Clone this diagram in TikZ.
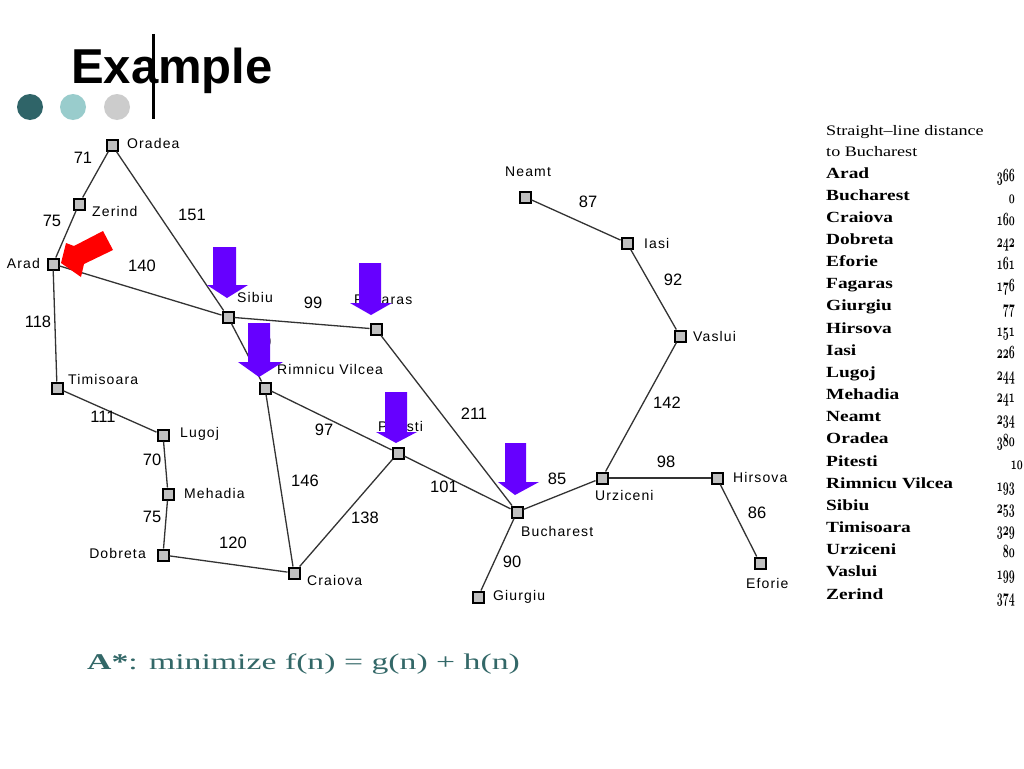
\documentclass[tikz,border=0pt]{standalone}
\usepackage{fontspec}
\usepackage{graphicx}
\newfontfamily\cityfont{Liberation Sans}[LetterSpace=8]
\newfontfamily\numfont{Liberation Sans}
\newfontfamily\titlefont{Liberation Sans}
\newfontfamily\tblfont{Liberation Serif}[FakeStretch=1.25]
\newfontfamily\formfont{Liberation Serif}[FakeStretch=1.5]
\newcommand\osnum[1]{\scalebox{0.72}[1.3]{\usefont{OML}{cmm}{b}{it}#1}}
\definecolor{dteal}{RGB}{47,100,104}
\definecolor{lteal}{RGB}{153,204,204}
\definecolor{lgray}{RGB}{204,204,204}
\definecolor{boxgray}{RGB}{192,192,192}
\definecolor{arrblue}{RGB}{102,0,255}
\definecolor{formteal}{RGB}{51,104,104}
\tikzset{
  city/.style={rectangle,draw=black,line width=2pt,fill=boxgray,minimum size=11pt,inner sep=0pt},
  clabel/.style={inner sep=0pt,font=\cityfont\fontsize{14}{14}\selectfont},
  elabel/.style={inner sep=0pt,font=\numfont\fontsize{16.5}{16.5}\selectfont},
  road/.style={line width=1.3pt,draw=black!80},
  bluearr/.style={fill=arrblue},
  tblname/.style={inner sep=0pt,font=\tblfont\bfseries\fontsize{15.5}{15.5}\selectfont},
  tblhead/.style={inner sep=0pt,font=\tblfont\fontsize{14.5}{14.5}\selectfont},
  tblnum/.style={inner sep=0pt,font=\fontsize{14.4}{14.4}\selectfont}
}
\begin{document}
\begin{tikzpicture}[x=1pt,y=-1pt]
\useasboundingbox (0,0) rectangle (1024,768);
\fill[white] (0,0) rectangle (1024,768);
% title
\node[inner sep=0pt,anchor=base west,font=\titlefont\bfseries\fontsize{49}{49}\selectfont] (title) at (71,83) {Example};
\draw[line width=3pt] (153,34) -- (153,119);
\fill[dteal] (30,107) circle[radius=13pt];
\fill[lteal] (73,107) circle[radius=13pt];
\fill[lgray] (117,107) circle[radius=13pt];
% cities
\node[city] (oradea) at (112,145) {};
\node[city] (zerind) at (79,204) {};
\node[city] (arad) at (53,264) {};
\node[city] (timisoara) at (57,388) {};
\node[city] (lugoj) at (163,435) {};
\node[city] (mehadia) at (168,494) {};
\node[city] (dobreta) at (163,555) {};
\node[city] (craiova) at (294,573) {};
\node[city] (rimnicu) at (265,388) {};
\node[city] (sibiu) at (228,317) {};
\node[city] (fagaras) at (376,329) {};
\node[city] (pitesti) at (398,453) {};
\node[city] (bucharest) at (517,512) {};
\node[city] (giurgiu) at (478,597) {};
\node[city] (urziceni) at (602,478) {};
\node[city] (hirsova) at (717,478) {};
\node[city] (eforie) at (760,563) {};
\node[city] (vaslui) at (680,336) {};
\node[city] (iasi) at (627,243) {};
\node[city] (neamt) at (525,197) {};
% roads
\draw[road] (oradea) -- (zerind);
\draw[road] (oradea) -- (sibiu);
\draw[road] (zerind) -- (arad);
\draw[road] (arad) -- (sibiu);
\draw[road] (arad) -- (timisoara);
\draw[road] (timisoara) -- (lugoj);
\draw[road] (lugoj) -- (mehadia);
\draw[road] (mehadia) -- (dobreta);
\draw[road] (dobreta) -- (craiova);
\draw[road] (craiova) -- (rimnicu);
\draw[road] (craiova) -- (pitesti);
\draw[road] (rimnicu) -- (sibiu);
\draw[road] (rimnicu) -- (pitesti);
\draw[road] (sibiu) -- (fagaras);
\draw[road] (fagaras) -- (bucharest);
\draw[road] (pitesti) -- (bucharest);
\draw[road] (bucharest) -- (giurgiu);
\draw[road] (bucharest) -- (urziceni);
\draw[road] (urziceni) -- (hirsova);
\draw[road] (hirsova) -- (eforie);
\draw[road] (urziceni) -- (vaslui);
\draw[road] (vaslui) -- (iasi);
\draw[road] (iasi) -- (neamt);
% city labels
\node[clabel,anchor=west] (lOradea) at (127,143) {Oradea};
\node[clabel,anchor=west] (lZerind) at (92,211) {Zerind};
\node[clabel,anchor=east] (lArad) at (40,263) {Arad};
\node[clabel,anchor=west] (lTim) at (68,379) {Timisoara};
\node[clabel,anchor=west] (lLugoj) at (180,434) {Lugoj};
\node[clabel,anchor=west] (lMeh) at (184,493) {Mehadia};
\node[clabel,anchor=east] (lDob) at (146,553) {Dobreta};
\node[clabel,anchor=west] (lCra) at (307,580) {Craiova};
\node[clabel,anchor=west] (lRim) at (277,369) {Rimnicu Vilcea};
\node[clabel,anchor=west] (lSib) at (237,297) {Sibiu};
\node[clabel,anchor=west] (lFag) at (354,301) {Fagaras};
\node[clabel,anchor=west] (lPit) at (378,426) {Pitesti};
\node[clabel,anchor=west] (lBuc) at (521,531) {Bucharest};
\node[clabel,anchor=west] (lGiu) at (493,597) {Giurgiu};
\node[clabel,anchor=west] (lUrz) at (595,495) {Urziceni};
\node[clabel,anchor=west] (lHir) at (733,477) {Hirsova};
\node[clabel,anchor=west] (lEfo) at (746,583) {Eforie};
\node[clabel,anchor=west] (lVas) at (693,336) {Vaslui};
\node[clabel,anchor=west] (lIasi) at (644,243) {Iasi};
\node[clabel,anchor=west] (lNea) at (505,172) {Neamt};
% road labels
\node[elabel] (e71) at (83,158) {71};
\node[elabel] (e75a) at (52,221) {75};
\node[elabel] (e151) at (192,215) {151};
\node[elabel] (e140) at (142,266) {140};
\node[elabel] (e118) at (38,322) {118};
\node[elabel] (e99) at (313,303) {99};
\node[elabel] (e80) at (262,342) {80};
\node[elabel] (e111) at (103,417) {111};
\node[elabel] (e70) at (152,460) {70};
\node[elabel] (e75b) at (152,517) {75};
\node[elabel] (e120) at (233,543) {120};
\node[elabel] (e146) at (305,481) {146};
\node[elabel] (e97) at (324,430) {97};
\node[elabel] (e138) at (365,518) {138};
\node[elabel] (e101) at (444,487) {101};
\node[elabel] (e211) at (474,414) {211};
\node[elabel] (e85) at (557,479) {85};
\node[elabel] (e90) at (512,562) {90};
\node[elabel] (e98) at (666,462) {98};
\node[elabel] (e86) at (757,513) {86};
\node[elabel] (e142) at (667,403) {142};
\node[elabel] (e92) at (673,280) {92};
\node[elabel] (e87) at (588,202) {87};
% arrows
\fill[red] (61,263) -- (66,243) -- (74,246) -- (103,231) -- (113,250) -- (84,264) -- (81,277) -- cycle;
\fill[bluearr] (213,247) -- (236,247) -- (236,285) -- (248,285) -- (227,298) -- (207,285) -- (213,285) -- cycle;
\fill[bluearr] (359,263) -- (381,263) -- (381,303) -- (392,303) -- (371,315) -- (350,303) -- (359,303) -- cycle;
\fill[bluearr] (248,323) -- (270,323) -- (270,362) -- (283,362) -- (259,377) -- (238,362) -- (248,362) -- cycle;
\fill[bluearr] (385,392) -- (407,392) -- (407,432) -- (417,432) -- (396,443) -- (376,432) -- (385,432) -- cycle;
\fill[bluearr] (505,443) -- (526,443) -- (526,482) -- (539,482) -- (515,495) -- (498,482) -- (505,482) -- cycle;
% table
\node[tblhead,anchor=base west] (h1) at (826,135) {Straight–line distance};
\node[tblhead,anchor=base west] (h2) at (826,156) {to Bucharest};
\foreach \n/\v/\rx [count=\i from 0] in {Arad/366/1015, Bucharest/0/1015, Craiova/160/1015, Dobreta/242/1015, Eforie/161/1015, Fagaras/176/1015, Giurgiu/77/1015, Hirsova/151/1015, Iasi/226/1015, Lugoj/244/1015, Mehadia/241/1015, Neamt/234/1015, Oradea/380/1015, Pitesti/10/1023, Rimnicu Vilcea/193/1015, Sibiu/253/1015, Timisoara/329/1015, Urziceni/80/1015, Vaslui/199/1015, Zerind/374/1015}{
  \node[tblname,anchor=base west] (t\i) at (826,178+22.16*\i) {\n};
  \node[tblnum,anchor=base east] (v\i) at (\rx,181+22.16*\i) {\osnum{\v}};
}
% formula
\node[inner sep=0pt,anchor=base west,text=formteal,font=\formfont\fontsize{22.5}{22.5}\selectfont] (formula) at (87,669) {\textbf{A*}: minimize f(n) = g(n) + h(n)};
\end{tikzpicture}
\end{document}
